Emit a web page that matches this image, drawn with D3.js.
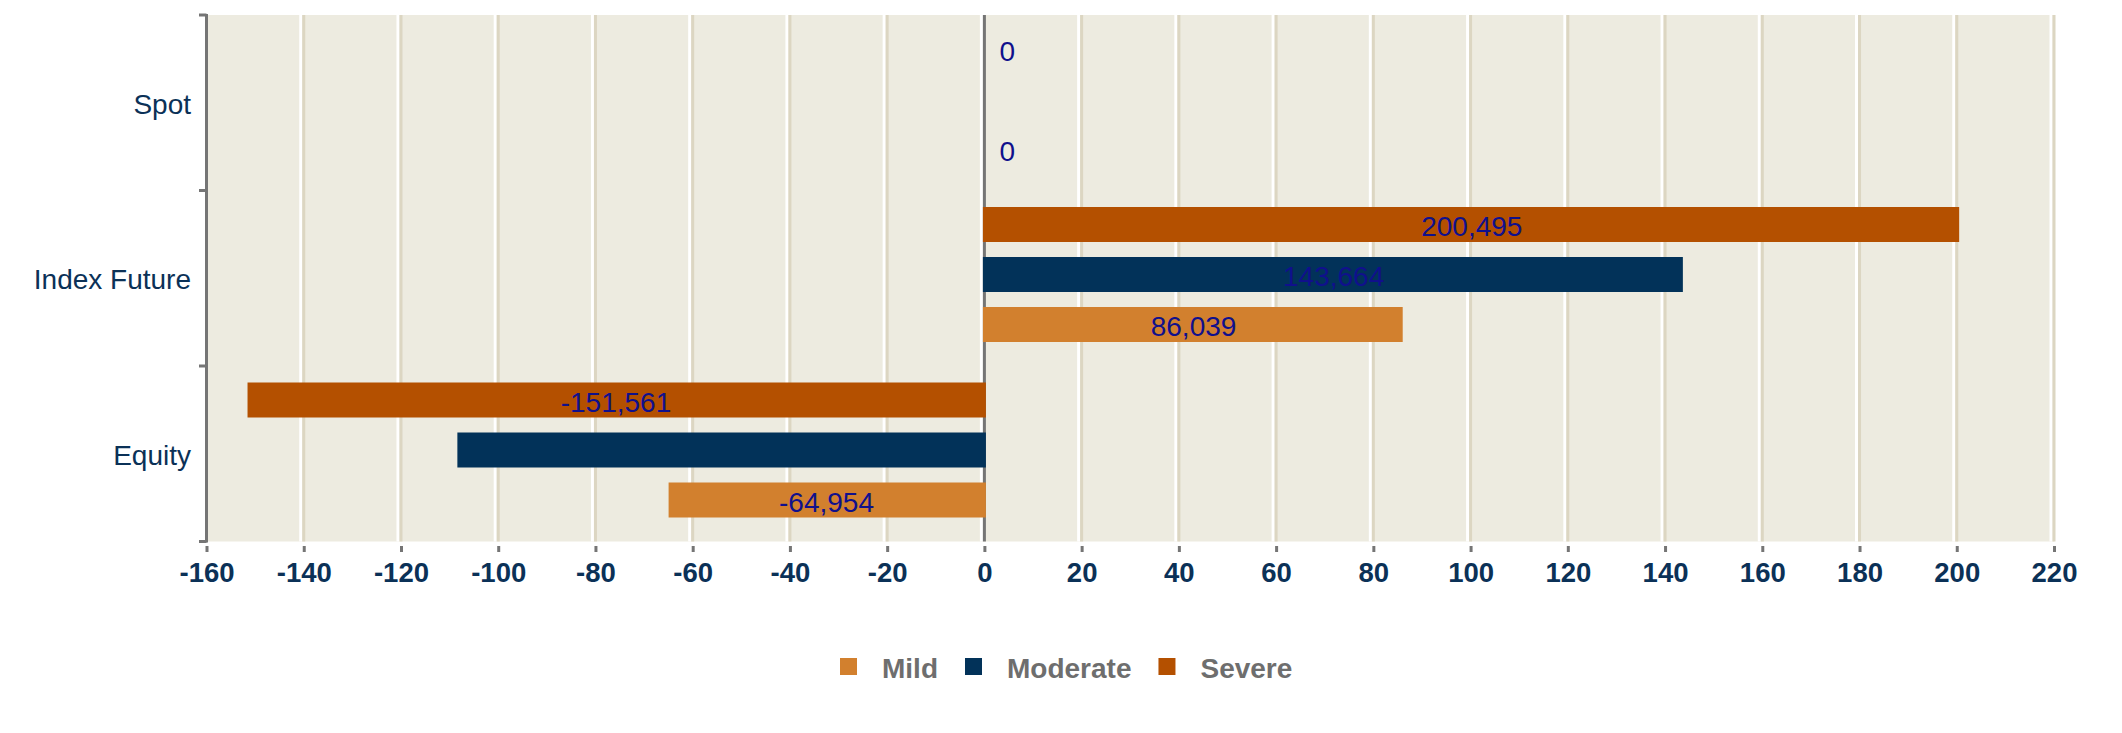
<!DOCTYPE html>
<html>
<head>
<meta charset="utf-8">
<script src="https://cdn.jsdelivr.net/npm/d3@7"></script>
<style>
  html, body { margin: 0; padding: 0; background: #ffffff; }
  svg { display: block; }
</style>
</head>
<body>
<svg id="chart" width="2122" height="733"></svg>
<script>
// ---- data ----
const categories = ["Spot", "Index Future", "Equity"];
const seriesNames = ["Mild", "Moderate", "Severe"];
const mildValues = [0, 86039, -64954];
const moderateValues = [0, 143664, -108400];
const severeValues = [0, 200495, -151561];
const showMildLabel = [true, true, true];
const showModerateLabel = [false, true, false];
const showSevereLabel = [true, true, true];
const seriesColors = ["#d2802e", "#023259", "#b45000"];
const xTickValues = [-160, -140, -120, -100, -80, -60, -40, -20, 0, 20, 40, 60, 80, 100, 120, 140, 160, 180, 200, 220];

const seriesValues = [mildValues, moderateValues, severeValues];
const seriesShow = [showMildLabel, showModerateLabel, showSevereLabel];

const svg = d3.select("#chart");
const font = "'Liberation Sans', Arial, sans-serif";
const locale = d3.formatLocale({ decimal: ".", thousands: ",", grouping: [3], currency: ["$", ""], minus: "-" });

const pLeft = 206.5, pRight = 2054, pTop = 15, pBottom = 541.5;

const x = d3.scaleLinear().domain([-160000, 220000]).range([pLeft, pRight]);
const y0 = d3.scaleBand().domain(categories).range([pTop, pBottom]).padding(0);
// Severe on top within group
const y1 = d3.scaleBand().domain(["Severe", "Moderate", "Mild"])
  .range([16.5, 16.5 + 50 * 2.7]).paddingInner(0.3).paddingOuter(0);

// background
svg.append("rect").attr("x", pLeft).attr("y", pTop)
  .attr("width", pRight - pLeft).attr("height", pBottom - pTop)
  .attr("fill", "#edebe0");

// gridlines (white + tan pair)
const grid = svg.append("g");
xTickValues.forEach(v => {
  const gx = x(v * 1000);
  if (v === -160) return;
  grid.append("rect").attr("x", gx - 4.5).attr("y", pTop).attr("width", 3).attr("height", pBottom - pTop).attr("fill", "#ffffff");
  if (v !== 0) {
    grid.append("rect").attr("x", gx - 1.5).attr("y", pTop).attr("width", 3).attr("height", pBottom - pTop).attr("fill", "#dcd6c2");
  }
});

// zero line
svg.append("line").attr("x1", x(0)).attr("x2", x(0)).attr("y1", pTop).attr("y2", pBottom)
  .attr("stroke", "#757575").attr("stroke-width", 3);

// bars
const rows = [];
categories.forEach((c, i) => {
  seriesNames.forEach((s, j) => {
    rows.push({ cat: c, series: s, value: seriesValues[j][i], color: seriesColors[j], show: seriesShow[j][i] });
  });
});

const barG = svg.append("g");
barG.selectAll("rect").data(rows.filter(d => d.value !== 0)).join("rect")
  .attr("x", d => Math.min(x(0) - 1.5, x(d.value)))
  .attr("width", d => Math.abs(x(d.value) - x(0)) + 1.5)
  .attr("y", d => y0(d.cat) + y1(d.series))
  .attr("height", y1.bandwidth())
  .attr("fill", d => d.color);

// value labels
const fmt = locale.format(",");
barG.selectAll("text").data(rows.filter(d => d.show)).join("text")
  .attr("x", d => d.value === 0 ? x(0) + 15 : (x(0) + x(d.value)) / 2)
  .attr("y", d => y0(d.cat) + y1(d.series) + y1.bandwidth() / 2 + 2)
  .attr("dy", "0.35em")
  .attr("text-anchor", d => d.value === 0 ? "start" : "middle")
  .attr("font-family", font).attr("font-size", 28)
  .attr("fill", "#10108c")
  .text(d => fmt(d.value));

// y axis
const yAxisG = svg.append("g");
yAxisG.append("line").attr("x1", pLeft).attr("x2", pLeft).attr("y1", pTop - 1).attr("y2", pBottom + 1)
  .attr("stroke", "#757575").attr("stroke-width", 3);
const yTicks = categories.map(c => y0(c)).concat([pBottom]);
yTicks.forEach(t => {
  yAxisG.append("line").attr("x1", pLeft - 7.5).attr("x2", pLeft).attr("y1", t).attr("y2", t)
    .attr("stroke", "#757575").attr("stroke-width", 3);
});
yAxisG.selectAll("text").data(categories).join("text")
  .attr("x", pLeft - 15.5)
  .attr("y", d => y0(d) + y0.bandwidth() / 2 + 1)
  .attr("dy", "0.35em")
  .attr("text-anchor", "end")
  .attr("font-family", font).attr("font-size", 28)
  .attr("fill", "#0b3157")
  .text(d => d);

// x axis (ticks + labels)
const tickFmt = locale.format("d");
const xAxis = d3.axisBottom(x)
  .tickValues(xTickValues.map(v => v * 1000))
  .tickFormat(v => tickFmt(v / 1000))
  .tickSize(6).tickPadding(10);
const xg = svg.append("g").attr("transform", `translate(0,${pBottom + 4.5})`).call(xAxis);
xg.select(".domain").remove();
xg.selectAll(".tick line").attr("stroke", "#757575").attr("stroke-width", 3);
xg.selectAll(".tick text")
  .attr("font-family", font).attr("font-size", 27.5).attr("font-weight", "bold")
  .attr("fill", "#0b3157");

// legend
const legend = svg.append("g");
let lx = 840;
seriesNames.forEach((s, j) => {
  legend.append("rect").attr("x", lx).attr("y", 658).attr("width", 17).attr("height", 17).attr("fill", seriesColors[j]);
  const t = legend.append("text").attr("x", lx + 42).attr("y", 678)
    .attr("font-family", font).attr("font-size", 28).attr("font-weight", "bold")
    .attr("fill", "#6e6e6e").text(s);
  lx = lx + 42 + t.node().getComputedTextLength() + 27;
});
</script>
</body>
</html>
